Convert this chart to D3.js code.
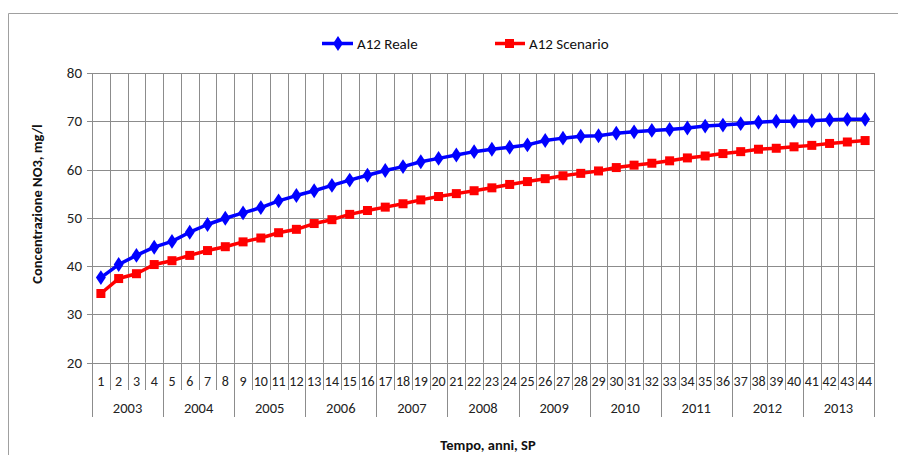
<!DOCTYPE html>
<html><head><meta charset="utf-8">
<script src="https://cdn.jsdelivr.net/npm/d3@7"></script>
<style>
body{margin:0;background:#fff;}
svg{display:block;font-family:Carlito,Lato,"Open Sans",sans-serif;}
</style></head>
<body><svg id="c" width="898" height="455"></svg>
<script>
const categories = d3.range(1,45).map(String);
const years = ["2003","2004","2005","2006","2007","2008","2009","2010","2011","2012","2013"];
const yearSpans = [[1,4],[5,8],[9,12],[13,16],[17,20],[21,24],[25,28],[29,32],[33,36],[37,40],[41,44]];
const reale = [37.6,40.3,42.2,43.9,45.1,47.0,48.6,49.9,51.0,52.1,53.5,54.6,55.6,56.7,57.8,58.8,59.8,60.6,61.6,62.3,63.0,63.7,64.2,64.6,65.1,66.0,66.5,66.9,67.0,67.5,67.8,68.1,68.3,68.6,69.0,69.2,69.5,69.8,70.0,70.0,70.1,70.3,70.4,70.4];
const scenario = [34.3,37.4,38.4,40.3,41.1,42.2,43.2,44.0,45.0,45.8,46.9,47.6,48.8,49.6,50.7,51.5,52.2,52.9,53.7,54.4,55.0,55.6,56.2,56.9,57.5,58.1,58.7,59.2,59.7,60.4,60.9,61.3,61.8,62.4,62.8,63.3,63.7,64.2,64.4,64.7,65.0,65.4,65.7,66.0];
const yTicks = [20,30,40,50,60,70,80];
const seriesNames = ["A12 Reale","A12 Scenario"];

const svg = d3.select("#c");
const L=92, R=874, T=73, B=362.5;
const x = d3.scaleBand().domain(categories).range([L,R]).padding(0);
const y = d3.scaleLinear().domain([20,80]).range([B,T]);
const grid="#8c8c8c";

// outer frame
svg.append("path").attr("d","M8.5,455 V13.5 H898").attr("fill","none").attr("stroke","#a0a0a0").attr("stroke-width",1);

// horizontal gridlines
svg.append("g").selectAll("line").data(yTicks).join("line")
  .attr("x1",L-5).attr("x2",R).attr("y1",d=>Math.round(y(d))+0.5).attr("y2",d=>Math.round(y(d))+0.5)
  .attr("stroke",grid).attr("stroke-width",1);
// vertical gridlines at category boundaries
const bounds = categories.map(c=>x(c)).concat([R]);
svg.append("g").selectAll("line").data(bounds.slice(1)).join("line")
  .attr("x1",d=>Math.round(d)+0.5).attr("x2",d=>Math.round(d)+0.5).attr("y1",T).attr("y2",B)
  .attr("stroke",grid).attr("stroke-width",1);
// category separators below axis
svg.append("g").selectAll("line").data(bounds).join("line")
  .attr("x1",d=>Math.round(d)+0.5).attr("x2",d=>Math.round(d)+0.5).attr("y1",B).attr("y2",390)
  .attr("stroke",grid).attr("stroke-width",1);
// year separators
const yb = yearSpans.map(s=>x(String(s[0]))).concat([R]);
svg.append("g").selectAll("line").data(yb).join("line")
  .attr("x1",d=>Math.round(d)+0.5).attr("x2",d=>Math.round(d)+0.5).attr("y1",B).attr("y2",417)
  .attr("stroke",grid).attr("stroke-width",1);
// y axis line
svg.append("line").attr("x1",L+0.5).attr("x2",L+0.5).attr("y1",T).attr("y2",417).attr("stroke",grid);

// y tick labels
svg.append("g").selectAll("text").data(yTicks).join("text")
  .attr("x",82).attr("y",d=>y(d)+5).attr("text-anchor","end")
  .attr("font-size",15).attr("fill","#222").text(d=>d);
// category labels
svg.append("g").selectAll("text").data(categories).join("text")
  .attr("x",d=>x(d)+x.bandwidth()/2).attr("y",386).attr("text-anchor","middle")
  .attr("font-size",14).attr("fill","#222").text(d=>d);
// year labels
svg.append("g").selectAll("text").data(years).join("text")
  .attr("x",(d,i)=>(x(String(yearSpans[i][0]))+x(String(yearSpans[i][1]))+x.bandwidth())/2)
  .attr("y",413).attr("text-anchor","middle").attr("font-size",14.5).attr("fill","#222").text(d=>d);

// axis titles
svg.append("text").attr("transform","translate(42,204) rotate(-90)").attr("text-anchor","middle")
  .attr("font-size",14.5).attr("font-weight","bold").attr("fill","#111").text("Concentrazione NO3, mg/l");
svg.append("text").attr("x",488).attr("y",450).attr("text-anchor","middle")
  .attr("font-size",14.5).attr("font-weight","bold").attr("fill","#111").text("Tempo, anni, SP");

const cx = d=>x(d)+x.bandwidth()/2;
const line = d3.line().x((d,i)=>cx(categories[i])).y(d=>y(d));
const diamond = d3.symbol().type(d3.symbolDiamond).size(64);
// series
function drawSeries(data,color,shape){
  const g=svg.append("g");
  g.append("path").datum(data).attr("d",line).attr("fill","none").attr("stroke",color).attr("stroke-width",3.5).attr("stroke-linejoin","round");
  if(shape==="diamond"){
    g.selectAll("path.m").data(data).join("path").attr("class","m")
      .attr("transform",(d,i)=>`translate(${cx(categories[i])},${y(d)}) scale(1.15,1)`)
      .attr("d",diamond).attr("fill",color);
  } else {
    g.selectAll("rect").data(data).join("rect")
      .attr("x",(d,i)=>cx(categories[i])-4.5).attr("y",d=>y(d)-4.5).attr("width",9).attr("height",9).attr("fill",color);
  }
}
drawSeries(reale,"#0000ff","diamond");
drawSeries(scenario,"#ff0000","square");

// legend
const lg=svg.append("g");
lg.append("line").attr("x1",322).attr("x2",353).attr("y1",43.5).attr("y2",43.5).attr("stroke","#0000ff").attr("stroke-width",3.5);
lg.append("path").attr("transform","translate(338,43.5) scale(1.15,1)").attr("d",diamond).attr("fill","#0000ff");
lg.append("text").attr("x",357).attr("y",48.5).attr("font-size",15).attr("fill","#111").text(seriesNames[0]);
lg.append("line").attr("x1",495).attr("x2",525).attr("y1",43.5).attr("y2",43.5).attr("stroke","#ff0000").attr("stroke-width",3.5);
lg.append("rect").attr("x",505).attr("y",39).attr("width",9).attr("height",9).attr("fill","#ff0000");
lg.append("text").attr("x",529).attr("y",48.5).attr("font-size",15).attr("fill","#111").text(seriesNames[1]);
</script></body></html>
